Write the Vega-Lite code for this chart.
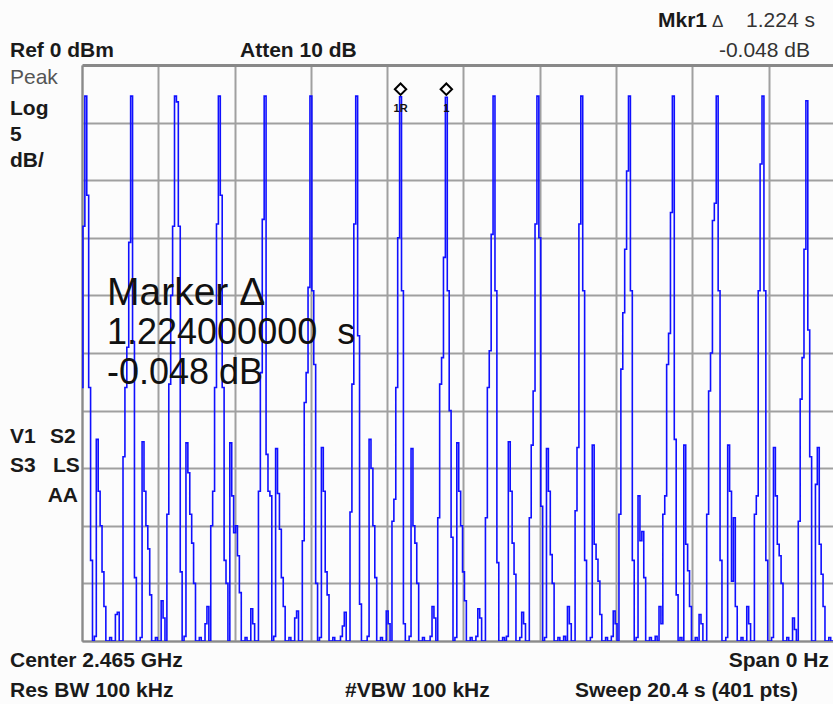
{
"$schema": "https://vega.github.io/schema/vega-lite/v6.json",
"width": 751, "height": 576,
"autosize": {"type": "none"},
"padding": {"left": 82, "top": 65, "right": 0, "bottom": 63},
"background": "#fcfcfc",
"config": {"view": {"stroke": null}, "font": "Liberation Sans"},
"datasets": {
"trace": [
{"pt":0,"dBm":-28},{"pt":1,"dBm":-14},{"pt":2,"dBm":-2.7},{"pt":3,"dBm":-11.3},{"pt":4,"dBm":-28},{"pt":5,"dBm":-43},{"pt":6,"dBm":-50},{"pt":7,"dBm":-49.6},{"pt":8,"dBm":-32.5},{"pt":9,"dBm":-37},
{"pt":10,"dBm":-40},{"pt":11,"dBm":-44},{"pt":12,"dBm":-47},{"pt":13,"dBm":-50},{"pt":14,"dBm":-50},{"pt":15,"dBm":-49.7},{"pt":16,"dBm":-50},{"pt":17,"dBm":-50},{"pt":18,"dBm":-47.7},{"pt":19,"dBm":-47.5},
{"pt":20,"dBm":-50},{"pt":21,"dBm":-50},{"pt":22,"dBm":-34},{"pt":23,"dBm":-28},{"pt":24,"dBm":-24.5},{"pt":25,"dBm":-15.4},{"pt":26,"dBm":-2.7},{"pt":27,"dBm":-24},{"pt":28,"dBm":-44.5},{"pt":29,"dBm":-50},
{"pt":30,"dBm":-50},{"pt":31,"dBm":-49.7},{"pt":32,"dBm":-32.7},{"pt":33,"dBm":-37},{"pt":34,"dBm":-40},{"pt":35,"dBm":-42},{"pt":36,"dBm":-46},{"pt":37,"dBm":-50},{"pt":38,"dBm":-50},{"pt":39,"dBm":-49.7},
{"pt":40,"dBm":-50},{"pt":41,"dBm":-50},{"pt":42,"dBm":-46.5},{"pt":43,"dBm":-48},{"pt":44,"dBm":-50},{"pt":45,"dBm":-39},{"pt":46,"dBm":-27.7},{"pt":47,"dBm":-20},{"pt":48,"dBm":-14},{"pt":49,"dBm":-2.7},
{"pt":50,"dBm":-3.2},{"pt":51,"dBm":-14},{"pt":52,"dBm":-44},{"pt":53,"dBm":-50},{"pt":54,"dBm":-49.6},{"pt":55,"dBm":-32.8},{"pt":56,"dBm":-35.4},{"pt":57,"dBm":-39},{"pt":58,"dBm":-41.5},{"pt":59,"dBm":-45},
{"pt":60,"dBm":-50},{"pt":61,"dBm":-50},{"pt":62,"dBm":-49.7},{"pt":63,"dBm":-50},{"pt":64,"dBm":-50},{"pt":65,"dBm":-48.5},{"pt":66,"dBm":-47},{"pt":67,"dBm":-50},{"pt":68,"dBm":-40},{"pt":69,"dBm":-37},
{"pt":70,"dBm":-28},{"pt":71,"dBm":-13.8},{"pt":72,"dBm":-2.7},{"pt":73,"dBm":-11.3},{"pt":74,"dBm":-28},{"pt":75,"dBm":-43},{"pt":76,"dBm":-45},{"pt":77,"dBm":-50},{"pt":78,"dBm":-32.8},{"pt":79,"dBm":-37.4},
{"pt":80,"dBm":-40.6},{"pt":81,"dBm":-40},{"pt":82,"dBm":-42.6},{"pt":83,"dBm":-45.8},{"pt":84,"dBm":-50},{"pt":85,"dBm":-50},{"pt":86,"dBm":-49.7},{"pt":87,"dBm":-50},{"pt":88,"dBm":-50},{"pt":89,"dBm":-47.2},
{"pt":90,"dBm":-48.5},{"pt":91,"dBm":-50},{"pt":92,"dBm":-50},{"pt":93,"dBm":-37},{"pt":94,"dBm":-26.7},{"pt":95,"dBm":-13.4},{"pt":96,"dBm":-2.7},{"pt":97,"dBm":-33.8},{"pt":98,"dBm":-37},{"pt":99,"dBm":-37.4},
{"pt":100,"dBm":-50},{"pt":101,"dBm":-49.6},{"pt":102,"dBm":-33.3},{"pt":103,"dBm":-37.2},{"pt":104,"dBm":-40.3},{"pt":105,"dBm":-44.5},{"pt":106,"dBm":-47},{"pt":107,"dBm":-50},{"pt":108,"dBm":-50},{"pt":109,"dBm":-49.7},
{"pt":110,"dBm":-50},{"pt":111,"dBm":-50},{"pt":112,"dBm":-48},{"pt":113,"dBm":-47.4},{"pt":114,"dBm":-50},{"pt":115,"dBm":-50},{"pt":116,"dBm":-41.3},{"pt":117,"dBm":-29.3},{"pt":118,"dBm":-26.7},{"pt":119,"dBm":-19.3},
{"pt":120,"dBm":-2.7},{"pt":121,"dBm":-19.6},{"pt":122,"dBm":-26},{"pt":123,"dBm":-45},{"pt":124,"dBm":-50},{"pt":125,"dBm":-49.7},{"pt":126,"dBm":-33.2},{"pt":127,"dBm":-37},{"pt":128,"dBm":-44},{"pt":129,"dBm":-46},
{"pt":130,"dBm":-50},{"pt":131,"dBm":-50},{"pt":132,"dBm":-49.7},{"pt":133,"dBm":-50},{"pt":134,"dBm":-50},{"pt":135,"dBm":-50},{"pt":136,"dBm":-49.6},{"pt":137,"dBm":-48.7},{"pt":138,"dBm":-47.5},{"pt":139,"dBm":-50},
{"pt":140,"dBm":-50},{"pt":141,"dBm":-38.8},{"pt":142,"dBm":-27.7},{"pt":143,"dBm":-13.8},{"pt":144,"dBm":-2.7},{"pt":145,"dBm":-23.5},{"pt":146,"dBm":-46.8},{"pt":147,"dBm":-50},{"pt":148,"dBm":-50},{"pt":149,"dBm":-50},
{"pt":150,"dBm":-49.6},{"pt":151,"dBm":-32.5},{"pt":152,"dBm":-35},{"pt":153,"dBm":-40},{"pt":154,"dBm":-44.5},{"pt":155,"dBm":-50},{"pt":156,"dBm":-50},{"pt":157,"dBm":-49.7},{"pt":158,"dBm":-50},{"pt":159,"dBm":-50},
{"pt":160,"dBm":-47.4},{"pt":161,"dBm":-48.5},{"pt":162,"dBm":-50},{"pt":163,"dBm":-39.6},{"pt":164,"dBm":-37.7},{"pt":165,"dBm":-28},{"pt":166,"dBm":-15},{"pt":167,"dBm":-2.75},{"pt":168,"dBm":-19.6},{"pt":169,"dBm":-48.5},
{"pt":170,"dBm":-50},{"pt":171,"dBm":-50},{"pt":172,"dBm":-49.6},{"pt":173,"dBm":-33.3},{"pt":174,"dBm":-40},{"pt":175,"dBm":-41.5},{"pt":176,"dBm":-45},{"pt":177,"dBm":-50},{"pt":178,"dBm":-50},{"pt":179,"dBm":-49.7},
{"pt":180,"dBm":-50},{"pt":181,"dBm":-50},{"pt":182,"dBm":-50},{"pt":183,"dBm":-49.6},{"pt":184,"dBm":-47},{"pt":185,"dBm":-48},{"pt":186,"dBm":-50},{"pt":187,"dBm":-39.3},{"pt":188,"dBm":-27.7},{"pt":189,"dBm":-25.4},
{"pt":190,"dBm":-16.7},{"pt":191,"dBm":-2.8},{"pt":192,"dBm":-19.6},{"pt":193,"dBm":-30},{"pt":194,"dBm":-41},{"pt":195,"dBm":-50},{"pt":196,"dBm":-49.7},{"pt":197,"dBm":-32.8},{"pt":198,"dBm":-37},{"pt":199,"dBm":-40},
{"pt":200,"dBm":-44},{"pt":201,"dBm":-46.5},{"pt":202,"dBm":-50},{"pt":203,"dBm":-50},{"pt":204,"dBm":-49.7},{"pt":205,"dBm":-50},{"pt":206,"dBm":-50},{"pt":207,"dBm":-49.6},{"pt":208,"dBm":-47.2},{"pt":209,"dBm":-48},
{"pt":210,"dBm":-50},{"pt":211,"dBm":-50},{"pt":212,"dBm":-39.3},{"pt":213,"dBm":-28},{"pt":214,"dBm":-24.8},{"pt":215,"dBm":-14.7},{"pt":216,"dBm":-2.7},{"pt":217,"dBm":-19.6},{"pt":218,"dBm":-43.2},{"pt":219,"dBm":-50},
{"pt":220,"dBm":-50},{"pt":221,"dBm":-49.7},{"pt":222,"dBm":-50},{"pt":223,"dBm":-49.6},{"pt":224,"dBm":-32.7},{"pt":225,"dBm":-37},{"pt":226,"dBm":-41.5},{"pt":227,"dBm":-44.2},{"pt":228,"dBm":-50},{"pt":229,"dBm":-50},
{"pt":230,"dBm":-49.7},{"pt":231,"dBm":-47.5},{"pt":232,"dBm":-48.5},{"pt":233,"dBm":-50},{"pt":234,"dBm":-50},{"pt":235,"dBm":-39.3},{"pt":236,"dBm":-33},{"pt":237,"dBm":-28.3},{"pt":238,"dBm":-13.8},{"pt":239,"dBm":-2.7},
{"pt":240,"dBm":-15},{"pt":241,"dBm":-38.3},{"pt":242,"dBm":-50},{"pt":243,"dBm":-49.7},{"pt":244,"dBm":-33.3},{"pt":245,"dBm":-37},{"pt":246,"dBm":-42.5},{"pt":247,"dBm":-45},{"pt":248,"dBm":-50},{"pt":249,"dBm":-50},
{"pt":250,"dBm":-49.7},{"pt":251,"dBm":-50},{"pt":252,"dBm":-50},{"pt":253,"dBm":-49.6},{"pt":254,"dBm":-50},{"pt":255,"dBm":-47},{"pt":256,"dBm":-48.5},{"pt":257,"dBm":-50},{"pt":258,"dBm":-50},{"pt":259,"dBm":-38.7},
{"pt":260,"dBm":-33.2},{"pt":261,"dBm":-13.8},{"pt":262,"dBm":-2.7},{"pt":263,"dBm":-19.6},{"pt":264,"dBm":-43},{"pt":265,"dBm":-50},{"pt":266,"dBm":-50},{"pt":267,"dBm":-49.7},{"pt":268,"dBm":-33},{"pt":269,"dBm":-41.6},
{"pt":270,"dBm":-42.9},{"pt":271,"dBm":-44.8},{"pt":272,"dBm":-47.7},{"pt":273,"dBm":-50},{"pt":274,"dBm":-50},{"pt":275,"dBm":-49.7},{"pt":276,"dBm":-50},{"pt":277,"dBm":-50},{"pt":278,"dBm":-49.6},{"pt":279,"dBm":-47.4},
{"pt":280,"dBm":-48.5},{"pt":281,"dBm":-50},{"pt":282,"dBm":-39},{"pt":283,"dBm":-26.4},{"pt":284,"dBm":-21.5},{"pt":285,"dBm":-16},{"pt":286,"dBm":-9.2},{"pt":287,"dBm":-2.7},{"pt":288,"dBm":-19.6},{"pt":289,"dBm":-43},
{"pt":290,"dBm":-50},{"pt":291,"dBm":-49.7},{"pt":292,"dBm":-37.4},{"pt":293,"dBm":-41.3},{"pt":294,"dBm":-40.5},{"pt":295,"dBm":-44.5},{"pt":296,"dBm":-50},{"pt":297,"dBm":-50},{"pt":298,"dBm":-49.7},{"pt":299,"dBm":-50},
{"pt":300,"dBm":-50},{"pt":301,"dBm":-49.6},{"pt":302,"dBm":-50},{"pt":303,"dBm":-47},{"pt":304,"dBm":-48.5},{"pt":305,"dBm":-39},{"pt":306,"dBm":-37.4},{"pt":307,"dBm":-26},{"pt":308,"dBm":-23.3},{"pt":309,"dBm":-12.8},
{"pt":310,"dBm":-2.7},{"pt":311,"dBm":-32.5},{"pt":312,"dBm":-46},{"pt":313,"dBm":-50},{"pt":314,"dBm":-49.7},{"pt":315,"dBm":-50},{"pt":316,"dBm":-33},{"pt":317,"dBm":-41.6},{"pt":318,"dBm":-43.9},{"pt":319,"dBm":-47},
{"pt":320,"dBm":-50},{"pt":321,"dBm":-50},{"pt":322,"dBm":-49.7},{"pt":323,"dBm":-50},{"pt":324,"dBm":-47.7},{"pt":325,"dBm":-48.5},{"pt":326,"dBm":-50},{"pt":327,"dBm":-50},{"pt":328,"dBm":-39},{"pt":329,"dBm":-28.3},
{"pt":330,"dBm":-25},{"pt":331,"dBm":-13.5},{"pt":332,"dBm":-12},{"pt":333,"dBm":-2.7},{"pt":334,"dBm":-19.6},{"pt":335,"dBm":-43},{"pt":336,"dBm":-50},{"pt":337,"dBm":-50},{"pt":338,"dBm":-49.7},{"pt":339,"dBm":-33},
{"pt":340,"dBm":-37},{"pt":341,"dBm":-44.8},{"pt":342,"dBm":-39.3},{"pt":343,"dBm":-47},{"pt":344,"dBm":-50},{"pt":345,"dBm":-50},{"pt":346,"dBm":-49.7},{"pt":347,"dBm":-50},{"pt":348,"dBm":-50},{"pt":349,"dBm":-47},
{"pt":350,"dBm":-48.5},{"pt":351,"dBm":-50},{"pt":352,"dBm":-50},{"pt":353,"dBm":-39},{"pt":354,"dBm":-37.4},{"pt":355,"dBm":-19.6},{"pt":356,"dBm":-8.6},{"pt":357,"dBm":-2.7},{"pt":358,"dBm":-19.6},{"pt":359,"dBm":-43},
{"pt":360,"dBm":-50},{"pt":361,"dBm":-50},{"pt":362,"dBm":-49.7},{"pt":363,"dBm":-33.2},{"pt":364,"dBm":-37.4},{"pt":365,"dBm":-41.6},{"pt":366,"dBm":-42.6},{"pt":367,"dBm":-45},{"pt":368,"dBm":-50},{"pt":369,"dBm":-50},
{"pt":370,"dBm":-49.7},{"pt":371,"dBm":-50},{"pt":372,"dBm":-50},{"pt":373,"dBm":-48},{"pt":374,"dBm":-49},{"pt":375,"dBm":-50},{"pt":376,"dBm":-39.6},{"pt":377,"dBm":-29},{"pt":378,"dBm":-25.4},{"pt":379,"dBm":-16},
{"pt":380,"dBm":-3.1},{"pt":381,"dBm":-23},{"pt":382,"dBm":-34},{"pt":383,"dBm":-50},{"pt":384,"dBm":-50},{"pt":385,"dBm":-36.4},{"pt":386,"dBm":-33.2},{"pt":387,"dBm":-41.6},{"pt":388,"dBm":-44.2},{"pt":389,"dBm":-47},
{"pt":390,"dBm":-50},{"pt":391,"dBm":-50},{"pt":392,"dBm":-49.7},{"pt":393,"dBm":-50},{"pt":394,"dBm":-50},{"pt":395,"dBm":-50},{"pt":396,"dBm":-50},{"pt":397,"dBm":-48},{"pt":398,"dBm":-47},{"pt":399,"dBm":-50},
{"pt":400,"dBm":-50}
],
"markers": [{"pt":167,"dBm":-2.1},{"pt":191,"dBm":-2.1}],
"markerLabels": [{"pt":167,"dBm":-4.1,"label":"1R"},{"pt":191,"dBm":-4.1,"label":"1"}],
"boldLeft": [
{"pt":-37.75,"dBm":0.69,"label":"Ref 0 dBm"},
{"pt":82.83,"dBm":0.69,"label":"Atten 10 dB"},
{"pt":301.97,"dBm":3.3,"label":"Mkr1"},
{"pt":-37.75,"dBm":-4.34,"label":"Log"},
{"pt":-37.75,"dBm":-6.6,"label":"5"},
{"pt":-37.75,"dBm":-8.85,"label":"dB/"},
{"pt":-37.75,"dBm":-32.81,"label":"V1"},
{"pt":-16.78,"dBm":-32.81,"label":"S2"},
{"pt":-37.75,"dBm":-35.33,"label":"S3"},
{"pt":-15.2,"dBm":-35.33,"label":"LS"},
{"pt":-37.75,"dBm":-52.26,"label":"Center 2.465 GHz"},
{"pt":-37.75,"dBm":-54.86,"label":"Res BW 100 kHz"},
{"pt":137.88,"dBm":-54.86,"label":"#VBW 100 kHz"},
{"pt":258.45,"dBm":-54.86,"label":"Sweep 20.4 s (401 pts)"}
],
"boldRight": [
{"pt":-2.1,"dBm":-37.93,"label":"AA"},
{"pt":391.61,"dBm":-52.26,"label":"Span 0 Hz"}
],
"regLeft": [
{"pt":-37.75,"dBm":-1.65,"label":"Peak"}
],
"delta": [
{"pt":330.27,"dBm":3.3,"label":"Δ"}
],
"regRight": [
{"pt":384.27,"dBm":3.3,"label":"1.224 s"},
{"pt":381.65,"dBm":0.69,"label":"-0.048 dB"}
],
"bigTitle": [
{"pt":13.1,"dBm":-20.83,"label":"Marker Δ"}
],
"big": [
{"pt":13.1,"dBm":-24.22,"label":"1.224000000\u00a0 s"},
{"pt":13.1,"dBm":-27.69,"label":"-0.048 dB"}
]
},
"encoding": {
"x": {"field": "pt", "type": "quantitative",
 "scale": {"domain": [0, 393.71], "nice": false, "zero": false},
 "axis": {"values": [0,40,80,120,160,200,240,280,320,360], "grid": true, "gridColor": "#a0a0a0", "gridWidth": 2, "labels": false, "ticks": false, "domain": true, "domainColor": "#8a8a8a", "domainWidth": 2, "title": null}},
"y": {"field": "dBm", "type": "quantitative",
 "scale": {"domain": [-50, 0], "nice": false, "zero": false},
 "axis": {"values": [-50,-45,-40,-35,-30,-25,-20,-15,-10,-5,0], "grid": true,
  "gridColor": {"condition": {"test": "datum.value === 0", "value": "#888888"}, "value": "#a0a0a0"},
  "gridWidth": {"condition": {"test": "datum.value === 0", "value": 3}, "value": 2},
  "labels": false, "ticks": false, "domain": true, "domainColor": "#8a8a8a", "domainWidth": 2, "title": null}}
},
"layer": [
{"data": {"name": "trace"}, "mark": {"type": "line", "color": "#1010ff", "strokeWidth": 1.6, "interpolate": "step", "clip": true}},
{"data": {"name": "markers"}, "mark": {"type": "point", "shape": "diamond", "size": 130, "filled": true, "fill": "#ffffff", "stroke": "#000000", "strokeWidth": 2, "opacity": 1}},
{"data": {"name": "markerLabels"}, "mark": {"type": "text", "fontSize": 11, "fontWeight": "bold", "color": "#111111", "align": "center", "baseline": "alphabetic"}, "encoding": {"text": {"field": "label"}}},
{"data": {"name": "boldLeft"}, "mark": {"type": "text", "fontSize": 21, "fontWeight": "bold", "color": "#1a1a1a", "align": "left", "baseline": "alphabetic"}, "encoding": {"text": {"field": "label"}}},
{"data": {"name": "boldRight"}, "mark": {"type": "text", "fontSize": 21, "fontWeight": "bold", "color": "#1a1a1a", "align": "right", "baseline": "alphabetic"}, "encoding": {"text": {"field": "label"}}},
{"data": {"name": "regLeft"}, "mark": {"type": "text", "fontSize": 21, "color": "#555555", "align": "left", "baseline": "alphabetic"}, "encoding": {"text": {"field": "label"}}},
{"data": {"name": "delta"}, "mark": {"type": "text", "fontSize": 17, "color": "#333333", "align": "left", "baseline": "alphabetic"}, "encoding": {"text": {"field": "label"}}},
{"data": {"name": "regRight"}, "mark": {"type": "text", "fontSize": 21, "color": "#333333", "align": "right", "baseline": "alphabetic"}, "encoding": {"text": {"field": "label"}}},
{"data": {"name": "bigTitle"}, "mark": {"type": "text", "fontSize": 39, "color": "#111111", "align": "left", "baseline": "alphabetic"}, "encoding": {"text": {"field": "label"}}},
{"data": {"name": "big"}, "mark": {"type": "text", "fontSize": 36, "color": "#111111", "align": "left", "baseline": "alphabetic"}, "encoding": {"text": {"field": "label"}}}
]
}
